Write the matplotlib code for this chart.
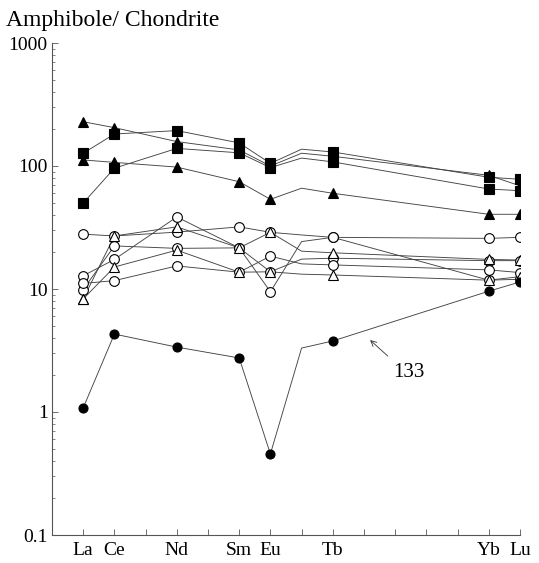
import matplotlib
matplotlib.use("Agg")
import matplotlib.pyplot as plt
import numpy as np

plt.rcParams['font.family'] = ['Liberation Serif', 'DejaVu Serif']

# REE (atomic number) positions, Gd only used as a bend in the lines
elements = ["La", "Ce", "Nd", "Sm", "Eu", "Gd", "Tb", "Yb", "Lu"]
atomic_no = [57, 58, 60, 62, 63, 64, 65, 70, 71]
marked = [0, 1, 2, 3, 4, 6, 7, 8]   # Gd has no analysis point

# filled squares
sq_1 = [127, 182, 194, 154, 105, 137, 130, 81, 78]
sq_2 = [50, 96, 139, 128, 97, 116, 108, 65, 63]
# filled triangles
tri_1 = [229, 205, 158, 135, 100, 127, 120, 84, 69]
tri_2 = [112, 107, 98, 74.5, 53.6, 66, 60, 40.5, 40.5]
# open circles
circ_1 = [27.9, 27.0, 29.0, 32.0, 28.9, 27.5, 26.3, 25.8, 26.3]
circ_2 = [12.8, 17.4, 38.5, 21.6, 9.5, 24.3, 26.3, 11.8, 12.0]
circ_3 = [9.9, 22.4, 21.4, 21.6, 13.8, 17.5, 17.8, 17.0, 17.0]
circ_4 = [11.1, 11.7, 15.4, 13.7, 18.5, 16.0, 15.7, 14.3, 13.6]
# open triangles
otri_1 = [8.3, 27.0, 32.0, 21.6, 28.9, 20.3, 19.7, 17.4, 17.2]
otri_2 = [8.3, 15.1, 20.7, 13.7, 13.8, 13.2, 13.0, 11.8, 12.6]
# sample 133, filled circles
s133 = [1.08, 4.3, 3.37, 2.75, 0.456, 3.31, 3.78, 9.6, 11.4]

tick_labels = {57: "La", 58: "Ce", 60: "Nd", 62: "Sm", 63: "Eu",
               65: "Tb", 70: "Yb", 71: "Lu"}
y_ticks = [0.1, 1, 10, 100, 1000]
y_labels = ["0.1", "1", "10", "100", "1000"]


def draw_series(ax, values, marker, face, size):
    ax.plot(atomic_no, values, color="#444444", lw=0.65, zorder=1)
    xs = [atomic_no[i] for i in marked]
    ys = [values[i] for i in marked]
    ax.plot(xs, ys, ls="none", marker=marker, ms=size, mfc=face,
            mec="black", mew=0.8, zorder=3)


def main(save_path):
    fig = plt.figure(figsize=(5.39, 5.63), dpi=100)
    ax = fig.add_axes([52 / 539, 28 / 563, 468 / 539, 492 / 563])

    for s in [circ_1, circ_2, circ_3, circ_4]:
        draw_series(ax, s, "o", "white", 7)
    for s in [otri_1, otri_2]:
        draw_series(ax, s, "^", "white", 7)
    for s in [sq_1, sq_2]:
        draw_series(ax, s, "s", "black", 6.5)
    for s in [tri_1, tri_2]:
        draw_series(ax, s, "^", "black", 7)
    draw_series(ax, s133, "o", "black", 6.5)

    ax.annotate("", xy=(66.13, 3.98), xytext=(66.83, 2.75),
                arrowprops=dict(arrowstyle="->", lw=0.6, color="#333333"))
    ax.text(67.44, 2.08, "133", fontsize=15, ha="center", va="center")

    ax.set_yscale("log")
    ax.set_xlim(56, 71)
    ax.set_ylim(0.1, 1000)
    ax.set_yticks(y_ticks)
    ax.set_yticklabels(y_labels)
    ax.set_xticks(range(57, 72))
    ax.set_xticklabels([tick_labels.get(i, "") for i in range(57, 72)])

    for side in ["top", "right"]:
        ax.spines[side].set_visible(False)
    for side in ["left", "bottom"]:
        ax.spines[side].set_color("#555555")
        ax.spines[side].set_linewidth(0.8)

    ax.tick_params(axis="both", which="major", direction="in", length=4,
                   width=0.6, color="#555555")
    ax.tick_params(axis="y", which="minor", direction="in", length=2.5,
                   width=0.5, color="#555555")
    ax.tick_params(axis="y", pad=3, labelsize=14)
    ax.tick_params(axis="x", pad=5, labelsize=14)

    fig.text(6 / 539, 1 - 26 / 563, "Amphibole/ Chondrite", fontsize=17,
             va="baseline", ha="left")

    fig.savefig(save_path, dpi=100)


if __name__ == "__main__":
    main("out.png")
